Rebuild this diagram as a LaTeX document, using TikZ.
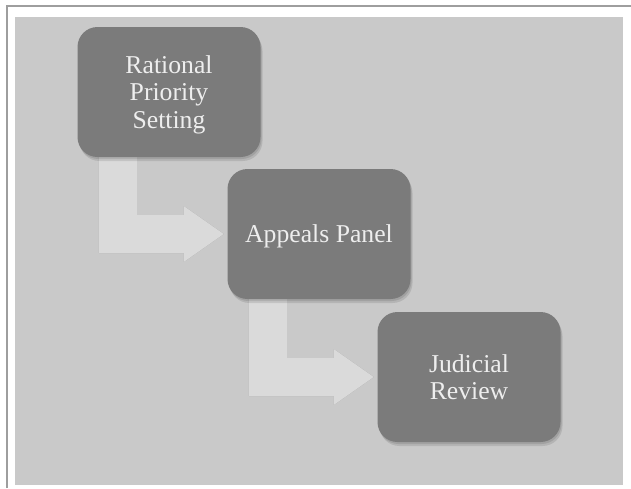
\documentclass[tikz,border=0pt]{standalone}
\usepackage{fontspec}
\setmainfont{Liberation Serif}
\usetikzlibrary{calc}
\pgfdeclarelayer{back}
\pgfdeclarelayer{arrows}
\pgfsetlayers{back,arrows,main}
\definecolor{panelgray}{HTML}{C9C9C9}
\definecolor{boxgray}{HTML}{7B7B7B}
\definecolor{arrowgray}{HTML}{DADADA}
\definecolor{textgray}{HTML}{EEEEEE}
\definecolor{framegray}{HTML}{9E9E9E}
\tikzset{
  stagebox/.style={rectangle, rounded corners=20pt, fill=boxgray,
    minimum width=183pt, minimum height=130pt, align=center,
    text=textgray, font=\fontsize{25.7}{27.3}\selectfont, inner sep=0pt,
    text depth=0pt},
  boxshadow/.style={rectangle, rounded corners=20pt, fill=black, opacity=0.10,
    minimum width=183pt, minimum height=130pt},
  arrowbody/.style={fill=arrowgray},
  arrowshadow/.style={fill=black, opacity=0.10},
  frameline/.style={draw=framegray, line width=1.5pt}
}
% bent block arrow from the bottom of node #1 to the west side of node #2
\newcommand\bentarr[3]{%
  \path[#3] let \p1=(#1.south west), \p2=(#2.west) in
    (\x1+21.5pt,\y1+7pt) -- (\x1+21.5pt,\y2-19pt) -- (\x2-43.5pt,\y2-19pt)
    -- (\x2-43.5pt,\y2-28pt) -- (\x2-3.5pt,\y2) -- (\x2-43.5pt,\y2+28pt)
    -- (\x2-43.5pt,\y2+19pt) -- (\x1+59.5pt,\y2+19pt) -- (\x1+59.5pt,\y1+7pt) -- cycle;}
\begin{document}
\begin{tikzpicture}[x=1pt,y=-1pt]
\useasboundingbox (0,0) rectangle (631,488);
% stage boxes
\node[stagebox] (s1) at (169,92) {Rational\\Priority\\Setting};
\node[stagebox] (s2) at (319,234) {Appeals Panel};
\node[stagebox] (s3) at (469,377) {Judicial\\Review};
\begin{pgfonlayer}{back}
  \fill[white] (0,0) rectangle (631,488);
  \draw[frameline] (7,488) -- (7,6) -- (631,6);
  \fill[panelgray] (15,17) rectangle (623,485);
\end{pgfonlayer}
\begin{pgfonlayer}{arrows}
  % arrow shadows
  \begin{scope}[shift={(2,3)}]
    \bentarr{s1}{s2}{arrowshadow}
    \bentarr{s2}{s3}{arrowshadow}
  \end{scope}
  \begin{scope}[shift={(1,1.5)}]
    \bentarr{s1}{s2}{arrowshadow}
    \bentarr{s2}{s3}{arrowshadow}
  \end{scope}
  % arrows
  \bentarr{s1}{s2}{arrowbody}
  \bentarr{s2}{s3}{arrowbody}
  % box shadows
  \foreach \s in {s1,s2,s3}{
    \node[boxshadow] at ($(\s.center)+(2,4)$) {};
    \node[boxshadow] at ($(\s.center)+(1,2)$) {};
  }
\end{pgfonlayer}
\end{tikzpicture}
\end{document}
